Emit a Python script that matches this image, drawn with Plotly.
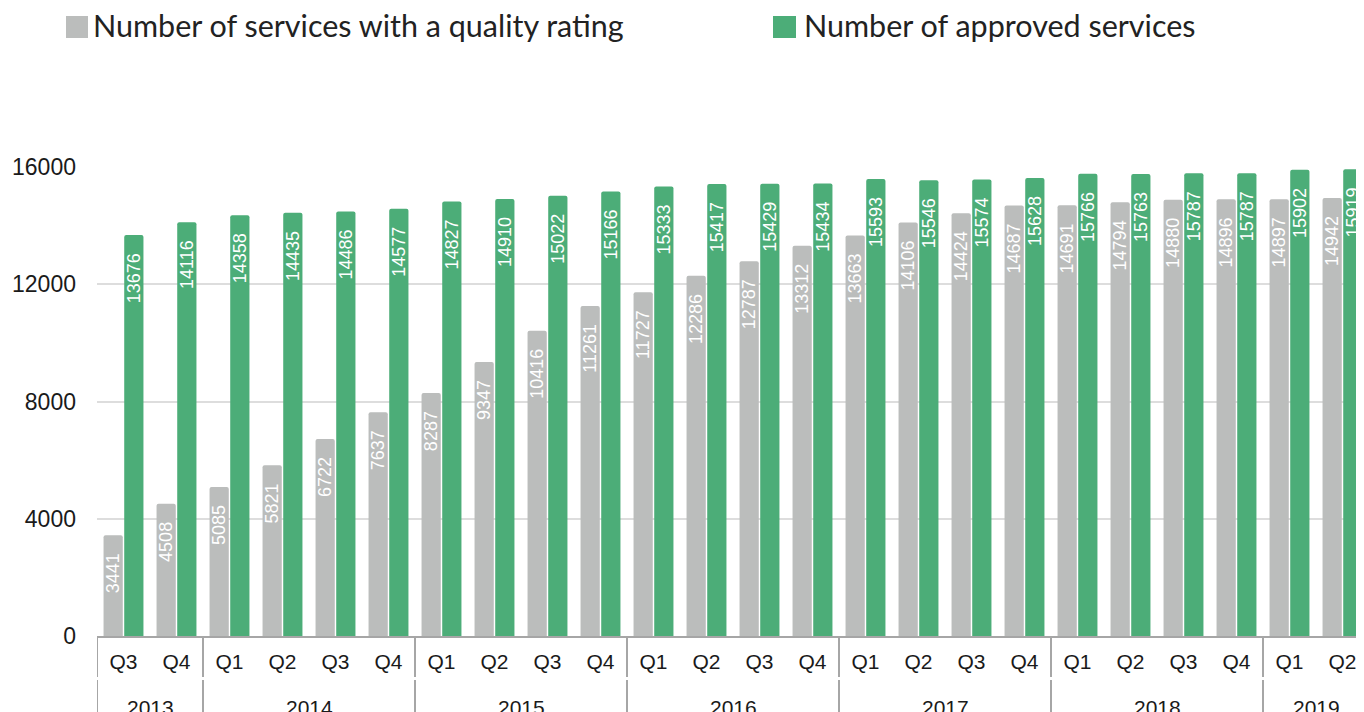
import plotly.graph_objects as go

years = ["2013"] * 2 + ["2014"] * 4 + ["2015"] * 4 + ["2016"] * 4 + ["2017"] * 4 + ["2018"] * 4 + ["2019"] * 2
quarters = ["Q3", "Q4"] + ["Q1", "Q2", "Q3", "Q4"] * 5 + ["Q1", "Q2"]

quality_rated = [3441, 4508, 5085, 5821, 6722, 7637, 8287, 9347, 10416, 11261, 11727, 12286,
                 12787, 13312, 13663, 14106, 14424, 14687, 14691, 14794, 14880, 14896, 14897, 14942]
approved = [13676, 14116, 14358, 14435, 14486, 14577, 14827, 14910, 15022, 15166, 15333, 15417,
            15429, 15434, 15593, 15546, 15574, 15628, 15766, 15763, 15787, 15787, 15902, 15919]

series_names = ["Number of services with a quality rating", "Number of approved services"]
y_ticks = [0, 4000, 8000, 12000, 16000]

GRAY = "#BBBDBC"
GREEN = "#4CAD78"
AXIS = "#A6A6A6"

# page body has an 8px margin, so the figure is drawn 8px in from the window corner
OFF = 8
W, H = 1364 - OFF, 712 - OFF
ML, MT = 97 - OFF, 167 - OFF
MR = 0
MB = H - (636 - OFF)
PW, PH = W - ML - MR, H - MT - MB
CAT_PX = 53.0


def px(x):  # window pixel -> paper x
    return (x - OFF - ML) / PW


def py(y):  # window pixel -> paper y
    return (H - MB - (y - OFF)) / PH


keys = [f"{y} {q}" for y, q in zip(years, quarters)]
pad = "\u00a0" * 3

fig = go.Figure()
for vals, color, name in [(quality_rated, GRAY, series_names[0]), (approved, GREEN, series_names[1])]:
    fig.add_trace(go.Bar(
        x=keys, y=vals, name=name,
        marker=dict(color=color, line=dict(width=0), cornerradius=2),
        text=[f"{v}{pad}" for v in vals],
        textposition="inside", insidetextanchor="end", textangle=-90,
        constraintext="none",
        insidetextfont=dict(family="Liberation Sans, Arial", size=18, color="white"),
        showlegend=False, hovertemplate="%{x}: %{y}<extra></extra>",
    ))

fig.update_layout(
    width=W, height=H,
    margin=dict(l=ML, r=MR, t=MT, b=MB, pad=0),
    paper_bgcolor="white", plot_bgcolor="white",
    barmode="group", bargap=0.22, bargroupgap=0.07,
    font=dict(family="Liberation Sans, Arial", color="#1a1a1a"),
    xaxis=dict(
        type="category", range=[-0.5, -0.5 + PW / CAT_PX], automargin=False,
        tickvals=keys, ticktext=quarters,
        showline=True, linecolor=AXIS, linewidth=2,
        tickfont=dict(size=21, color="#1a1a1a"), ticks="", showgrid=False,
        ticklabelstandoff=6,
    ),
    yaxis=dict(
        range=[0, 16000], tickvals=y_ticks, ticktext=[str(t) for t in y_ticks], automargin=False,
        showgrid=True, gridcolor="#DDDDDD", gridwidth=2, zeroline=False,
        tickfont=dict(size=23, color="#1a1a1a"), ticks="", ticklabelstandoff=20,
    ),
)

# year group labels and dividers (second level of the category axis)
i = 0
while i < len(years):
    j = i
    while j < len(years) and years[j] == years[i]:
        j += 1
    for y0, y1 in [(636, 677), (680, 714)]:
        fig.add_shape(type="line", xref="x", yref="paper", x0=i - 0.5, x1=i - 0.5,
                      y0=py(y0), y1=py(y1), line=dict(color=AXIS, width=2))
    fig.add_annotation(xref="x", yref="paper", x=(i + j - 1) / 2, y=py(707),
                       xanchor="center", yanchor="middle", showarrow=False,
                       text=years[i], font=dict(family="Liberation Sans, Arial", size=21, color="#1a1a1a"))
    i = j

# legend drawn manually (large square swatches)
legend_items = [(66, 88, 91, GRAY, series_names[0]), (773, 796, 802, GREEN, series_names[1])]
for x0, x1, tx, color, name in legend_items:
    fig.add_shape(type="rect", xref="paper", yref="paper",
                  x0=px(x0), x1=px(x1), y0=py(38), y1=py(16),
                  fillcolor=color, line=dict(width=0))
    fig.add_annotation(xref="paper", yref="paper", x=px(tx), y=py(25),
                       xanchor="left", yanchor="middle", showarrow=False,
                       text=name, font=dict(family="Lato, Noto Sans", size=30.5, color="#222222"))

fig.write_html("out.html")
